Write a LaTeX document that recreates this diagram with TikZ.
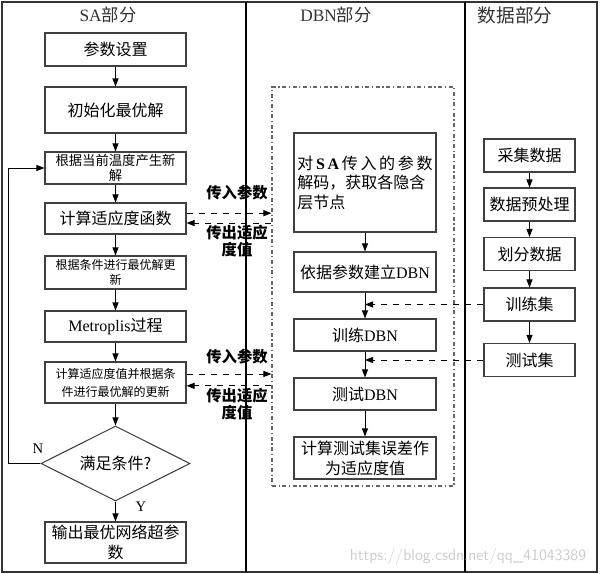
\documentclass[tikz,border=0pt]{standalone}
\usepackage{fontspec}
\setmainfont{Liberation Serif}
\newfontfamily\cjk{Noto Sans CJK SC}
\usetikzlibrary{arrows.meta,shapes.geometric}
\newcommand{\en}[1]{{\rmfamily #1}}

\begin{document}
\begin{tikzpicture}[x=0.75pt, y=-0.75pt,
    stepbox/.style={draw=borderColour, line width=0.8pt, fill=white, inner sep=1pt, align=center, font=\cjk\fontsize{12}{15}\selectfont},
    sabox/.style={stepbox, minimum width=105.75pt},
    dbnbox/.style={stepbox, minimum width=106.5pt},
    databox/.style={stepbox, minimum width=68.25pt, minimum height=24.75pt},
    decision/.style={diamond, aspect=2, draw=borderColour, line width=0.8pt, inner sep=0pt, minimum width=111.75pt, minimum height=56.25pt, font=\cjk\fontsize{12}{15}\selectfont},
    flow/.style={-{Triangle[length=6pt,width=4.5pt]}, line width=0.7pt},
    dashflow/.style={flow, dash pattern=on 5pt off 4pt},
    header/.style={font=\cjk\fontsize{13}{15}\selectfont, text=black!80},
    passlabel/.style={font=\cjk\bfseries\fontsize{11.5}{12.75}\selectfont, align=center, inner sep=0pt}
]
    \definecolor{borderColour}{HTML}{404040}
    \useasboundingbox (0,0) rectangle (600,574);

    % Draw frame and columns
    \draw[line width=1pt, black!80] (2,2) rectangle (597,572);
    \draw[line width=0.8pt] (246,2) -- (246,572);
    \draw[line width=0.8pt] (465,2) -- (465,572);
    \node[header] (saHead) at (108,15) {\en{SA}部分};
    \node[header] (dbnHead) at (336,15) {\en{DBN}部分};
    \node[header, font=\cjk\fontsize{14}{15}\selectfont] (dataHead) at (515,15) {数据部分};

    % SA part
    \node[sabox, minimum height=24.75pt] (params) at (115.5,49.5) {参数设置};
    \node[sabox, minimum height=34.5pt] (init) at (115.5,110) {初始化最优解};
    \node[sabox, minimum height=24pt, font=\cjk\fontsize{10}{11.5}\selectfont] (newsol) at (115.5,168) {根据当前温度产生新\\解};
    \node[sabox, minimum height=23.25pt] (fitness) at (115.5,218.5) {计算适应度函数};
    \node[sabox, minimum height=24.75pt, font=\cjk\fontsize{9}{11.5}\selectfont] (update) at (115.5,272.5) {根据条件进行最优解更\\新};
    \node[sabox, minimum height=23.25pt] (metro) at (115.5,326.5) {\en{Metroplis}过程};
    \node[sabox, minimum height=30.75pt, font=\cjk\fontsize{9}{13.5}\selectfont] (fitupd) at (115.5,382.5) {计算适应度值并根据条\\件进行最优解的更新};
    \node[decision] (cond) at (115.5,463.5) {满足条件?};
    \node[sabox, minimum height=30.75pt] (output) at (115.5,542.5) {输出最优网络超参\\数};

    \foreach \a/\b in {params/init, init/newsol, newsol/fitness, fitness/update, update/metro, metro/fitupd, fitupd/cond, cond/output}
        \draw[flow] (\a) -- (\b);
    \draw[flow] (cond.west) -- ++(-32,0) |- (newsol.west);
    \node (nLabel) at (38,449) {\fontsize{11}{12}\selectfont N};
    \node (yLabel) at (141,507) {\fontsize{11}{12}\selectfont Y};

    % DBN part
    \node[draw=black!60, line width=0.8pt, dash dot, minimum width=136.5pt, minimum height=299.25pt, inner sep=0pt] (dbn) at (363,286.5) {};
    \node[dbnbox, minimum height=74.25pt, align=left, font=\cjk\fontsize{12}{14.6}\selectfont] (decode) at (365,182.5) {对\,\en{\textbf{S\,A}}\,传\,入\,的\,参\,数\\解码，获取各隐含\\层节点};
    \node[dbnbox, minimum height=30pt] (build) at (365,272) {依据参数建立\en{DBN}};
    \node[dbnbox, minimum height=24pt] (train) at (365,335) {训练\en{DBN}};
    \node[dbnbox, minimum height=24pt] (test) at (365,394) {测试\en{DBN}};
    \node[dbnbox, minimum height=31.5pt] (error) at (365,458) {计算测试集误差作\\为适应度值};

    \foreach \a/\b in {decode/build, build/train, train/test, test/error}
        \draw[flow] (\a) -- (\b);

    % Data part
    \node[databox] (collect) at (529.5,155.5) {采集数据};
    \node[databox] (prep) at (529.5,204.5) {数据预处理};
    \node[databox] (split) at (529.5,254) {划分数据};
    \node[databox] (trainset) at (529.5,304.5) {训练集};
    \node[databox] (testset) at (529.5,360) {测试集};

    \foreach \a/\b in {collect/prep, prep/split, split/trainset, trainset/testset}
        \draw[flow] (\a) -- (\b);
    \draw[dashflow] (trainset.west) -- (trainset.west -| build.south);
    \draw[dashflow] (testset.west) -- (testset.west -| train.south);

    % Exchange between SA and DBN
    \draw[dashflow] ([yshift=4pt]fitness.east) -- ([yshift=4pt]fitness.east -| dbn.west);
    \draw[dashflow] ([yshift=-3.4pt]fitness.east -| dbn.west) -- ([yshift=-3.4pt]fitness.east);
    \draw[dashflow] ([yshift=6.4pt]fitupd.east) -- ([yshift=6.4pt]fitupd.east -| dbn.west);
    \draw[dashflow] ([yshift=-2.5pt]fitupd.east -| dbn.west) -- ([yshift=-2.5pt]fitupd.east);
    \node[passlabel] (passIn) at (237,193) {传入参数};
    \node[passlabel] (passOut) at (237,241.5) {传出适应\\度值};
    \node[passlabel] (passIn2) at (237,357) {传入参数};
    \node[passlabel] (passOut2) at (237,404) {传出适应\\度值};

    % Watermark
    \node[text=black!20, font=\sffamily\fontsize{12}{14}\selectfont] (mark) at (468,556) {https://blog.csdn.net/qq\_41043389};

\end{tikzpicture}
\end{document}
